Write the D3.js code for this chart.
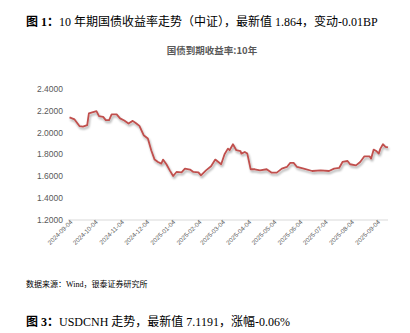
<!DOCTYPE html>
<html>
<head>
<meta charset="utf-8">
<script src="https://cdn.jsdelivr.net/npm/d3@7"></script>
<style>
  html, body { margin: 0; padding: 0; background: #fff; }
  svg { display: block; }
</style>
</head>
<body>
<svg id="chart" width="410" height="333"></svg>
<script>
// 10-year government bond yield (ChinaBond), daily closes
const dates = [
  "2024-09-04","2024-09-10","2024-09-16","2024-09-20","2024-09-25","2024-09-27",
  "2024-10-06","2024-10-09","2024-10-14","2024-10-17","2024-10-21","2024-10-24",
  "2024-10-30","2024-11-03","2024-11-08","2024-11-13","2024-11-18","2024-11-22",
  "2024-11-26","2024-12-01","2024-12-06","2024-12-10","2024-12-14","2024-12-18",
  "2024-12-22","2024-12-24","2024-12-28","2025-01-01","2025-01-05","2025-01-09",
  "2025-01-15","2025-01-19","2025-01-25","2025-01-29","2025-02-04","2025-02-07",
  "2025-02-13","2025-02-19","2025-02-24","2025-03-03","2025-03-07","2025-03-11",
  "2025-03-13","2025-03-17","2025-03-21","2025-03-26","2025-03-27","2025-03-31",
  "2025-04-03","2025-04-07","2025-04-12","2025-04-18","2025-04-26","2025-05-02",
  "2025-05-08","2025-05-14","2025-05-20","2025-05-24","2025-05-28","2025-06-01",
  "2025-06-09","2025-06-19","2025-06-29","2025-07-09","2025-07-15","2025-07-21",
  "2025-07-25","2025-07-31","2025-08-03","2025-08-10","2025-08-15","2025-08-20",
  "2025-08-26","2025-08-28","2025-08-31","2025-09-03","2025-09-06","2025-09-08",
  "2025-09-11","2025-09-14","2025-09-17"
];
const yields = [
  2.139, 2.120, 2.058, 2.054, 2.068, 2.176,
  2.197, 2.150, 2.144, 2.114, 2.114, 2.166,
  2.166, 2.130, 2.110, 2.083, 2.107, 2.085,
  2.061, 1.975, 1.945, 1.837, 1.751, 1.729,
  1.714, 1.751, 1.708, 1.652, 1.600, 1.637,
  1.634, 1.668, 1.659, 1.637, 1.634, 1.606,
  1.652, 1.689, 1.751, 1.708, 1.800, 1.852,
  1.837, 1.892, 1.837, 1.828, 1.806, 1.821,
  1.806, 1.662, 1.662, 1.652, 1.662, 1.631,
  1.631, 1.668, 1.683, 1.720, 1.720, 1.683,
  1.668, 1.646, 1.652, 1.646, 1.668, 1.674,
  1.729, 1.738, 1.708, 1.698, 1.729, 1.781,
  1.781, 1.760, 1.843, 1.830, 1.806, 1.852,
  1.892, 1.868, 1.864
];
const yTicks = [1.2, 1.4, 1.6, 1.8, 2.0, 2.2, 2.4];
const xTickLabels = [
  "2024-09-04","2024-10-04","2024-11-04","2024-12-04","2025-01-04","2025-02-04",
  "2025-03-04","2025-04-04","2025-05-04","2025-06-04","2025-07-04","2025-08-04","2025-09-04"
];

const parse = d3.timeParse("%Y-%m-%d");
const fmt = d3.timeFormat("%Y-%m-%d");
const series = dates.map((d, i) => ({ date: parse(d), value: yields[i] }));

const svg = d3.select("#chart");
const serif = "'Liberation Serif', 'Noto Sans CJK SC', serif";

// Figure caption
const cap1 = svg.append("text").attr("x", 26).attr("y", 26)
  .style("font-family", serif).style("font-size", "12px").attr("fill", "#000");
cap1.append("tspan").style("font-weight", "bold").text("图 1：");
cap1.append("tspan").text("10 年期国债收益率走势（中证），最新值 1.864，变动-0.01BP");

// Chart title
svg.append("text").attr("x", 212).attr("y", 54).attr("text-anchor", "middle")
  .style("font-family", "'Noto Sans CJK SC', sans-serif")
  .style("font-size", "9.5px").style("font-weight", "bold")
  .attr("fill", "#595959").text("国债到期收益率:10年");

// Scales
const x = d3.scaleTime()
  .domain([parse("2024-09-04"), parse("2025-09-17")])
  .range([69.5, 388]);
const y = d3.scaleLinear().domain([1.2, 2.4]).range([219.5, 89]);

// Shadow under the line
const defs = svg.append("defs");
const f = defs.append("filter").attr("id", "shadow")
  .attr("x", "-5%").attr("y", "-20%").attr("width", "115%").attr("height", "150%");
f.append("feDropShadow").attr("dx", 1).attr("dy", 2).attr("stdDeviation", 1.1)
  .attr("flood-color", "#000").attr("flood-opacity", 0.35);

// Y axis (labels only)
const yAxis = svg.append("g").attr("transform", "translate(64,0)")
  .call(d3.axisLeft(y).tickValues(yTicks).tickSize(0).tickPadding(1).tickFormat(d3.format(".4f")));
yAxis.select(".domain").remove();
yAxis.selectAll("text")
  .style("font-family", "'Liberation Sans', Arial, sans-serif")
  .style("font-size", "8.5px").attr("fill", "#595959");

// X axis
const xAxis = svg.append("g").attr("transform", "translate(0,219.5)")
  .call(d3.axisBottom(x).tickValues(xTickLabels.map(parse)).tickSize(3).tickSizeOuter(0).tickFormat(fmt));
xAxis.select(".domain").attr("stroke", "#d9d9d9").attr("d", "M68,0.5H388");
xAxis.selectAll(".tick line").attr("stroke", "#d9d9d9");
xAxis.selectAll(".tick text")
  .style("font-family", "'Liberation Sans', Arial, sans-serif")
  .style("font-size", "6.3px").attr("fill", "#595959")
  .attr("text-anchor", "end").attr("dy", 0)
  .attr("transform", "translate(3,3) rotate(-45)")
  .attr("y", 0).attr("x", 0);

// Yield line
const line = d3.line().x(d => x(d.date)).y(d => y(d.value));
svg.append("path").datum(series)
  .attr("d", line)
  .attr("fill", "none")
  .attr("stroke", "#c0504d")
  .attr("stroke-width", 1.8)
  .attr("stroke-linejoin", "round")
  .attr("filter", "url(#shadow)");

// Source note
svg.append("text").attr("x", 26).attr("y", 287)
  .style("font-family", serif).style("font-size", "8px").attr("fill", "#000")
  .text("数据来源：Wind，银泰证券研究所");

// Next figure caption
const cap3 = svg.append("text").attr("x", 26).attr("y", 326)
  .style("font-family", serif).style("font-size", "12px").attr("fill", "#000");
cap3.append("tspan").style("font-weight", "bold").text("图 3：");
cap3.append("tspan").text("USDCNH 走势，最新值 7.1191，涨幅-0.06%");
</script>
</body>
</html>
